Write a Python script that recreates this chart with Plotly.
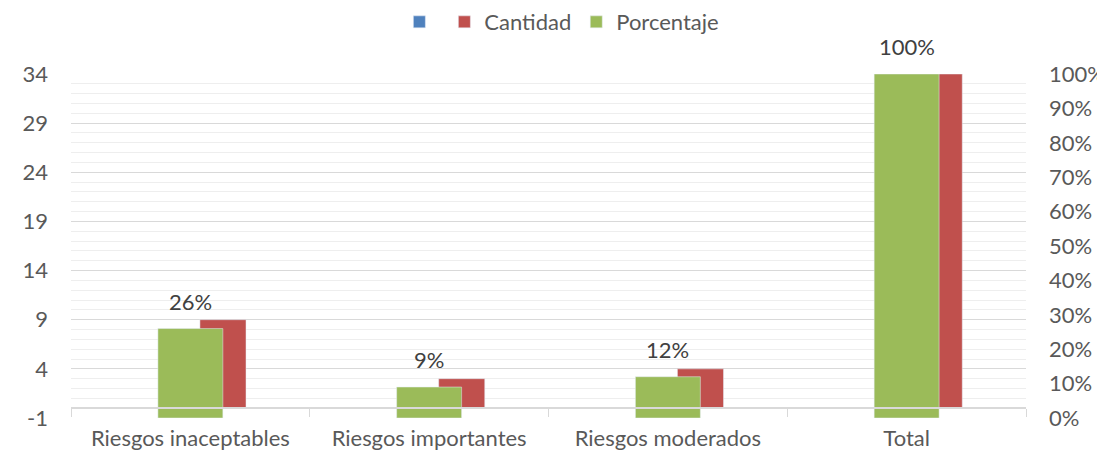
import plotly.graph_objects as go

categories = ["Riesgos inaceptables", "Riesgos importantes", "Riesgos moderados", "Total"]
blank_values = [0, 0, 0, 0]
cantidad = [9, 3, 4, 34]
porcentaje = [0.26, 0.09, 0.12, 1.00]
left_ticks = [-1, 4, 9, 14, 19, 24, 29, 34]

y_min, y_max = -1, 34
FONT = "Lato"
TXT = "#595959"
FS = 22

fig = go.Figure()
fig.add_trace(go.Bar(x=categories, y=blank_values, name="", marker_color="#4F81BD",
                     width=0.193, offset=0.04, yaxis="y"))
fig.add_trace(go.Bar(x=categories, y=cantidad, name="Cantidad", marker_color="#C0504D",
                     width=0.193, offset=0.04, yaxis="y", base=0))
fig.add_trace(go.Bar(x=categories, y=porcentaje, name="Porcentaje", marker_color="#9BBB59",
                     width=0.272, offset=-0.136, yaxis="y2"))

for c, p in zip(categories, porcentaje):
    fig.add_annotation(x=c, y=p, xref="x", yref="y2", text=f"{p*100:.0f}%",
                       showarrow=False, yanchor="bottom", yshift=12,
                       font=dict(family=FONT, size=FS, color="#404040"))

zero_pos = (0 - y_min) / (y_max - y_min)

fig.update_layout(
    width=1097, height=455,
    margin=dict(l=63, r=79, t=66, b=45, autoexpand=False),
    paper_bgcolor="white", plot_bgcolor="white",
    barmode="overlay",
    font=dict(family=FONT, size=FS, color=TXT),
    showlegend=True,
    legend=dict(orientation="h", x=0.514, xanchor="center", y=1.212, yanchor="top",
                font=dict(family=FONT, size=FS, color=TXT), traceorder="normal",
                itemwidth=30, borderwidth=0),
    xaxis=dict(range=[-0.5, 3.5], anchor="free", position=zero_pos,
               showline=True, linecolor="#D9D9D9", linewidth=1.5, layer="above traces",
               ticks="outside", tickson="boundaries", ticklen=8, tickcolor="#D9D9D9",
               ticklabelstandoff=11, showgrid=False, automargin=False,
               tickfont=dict(family=FONT, size=FS, color=TXT)),
    yaxis=dict(range=[y_min, y_max], tickvals=left_ticks, ticktext=[str(v) for v in left_ticks],
               showgrid=True, automargin=False,
               gridcolor="#D9D9D9", gridwidth=1.2, zeroline=False,
               ticks="", ticklabelstandoff=22,
               minor=dict(tick0=-1, dtick=1, showgrid=True, gridcolor="#EEEEEE", gridwidth=1),
               tickfont=dict(family=FONT, size=FS, color=TXT)),
    yaxis2=dict(range=[0, 1], overlaying="y", side="right", tick0=0, dtick=0.1,
                tickformat=".0%", showgrid=False, zeroline=False, ticks="",
                ticklabelstandoff=22, automargin=False,
                tickfont=dict(family=FONT, size=FS, color=TXT)),
)

fig.write_html("out.html")
